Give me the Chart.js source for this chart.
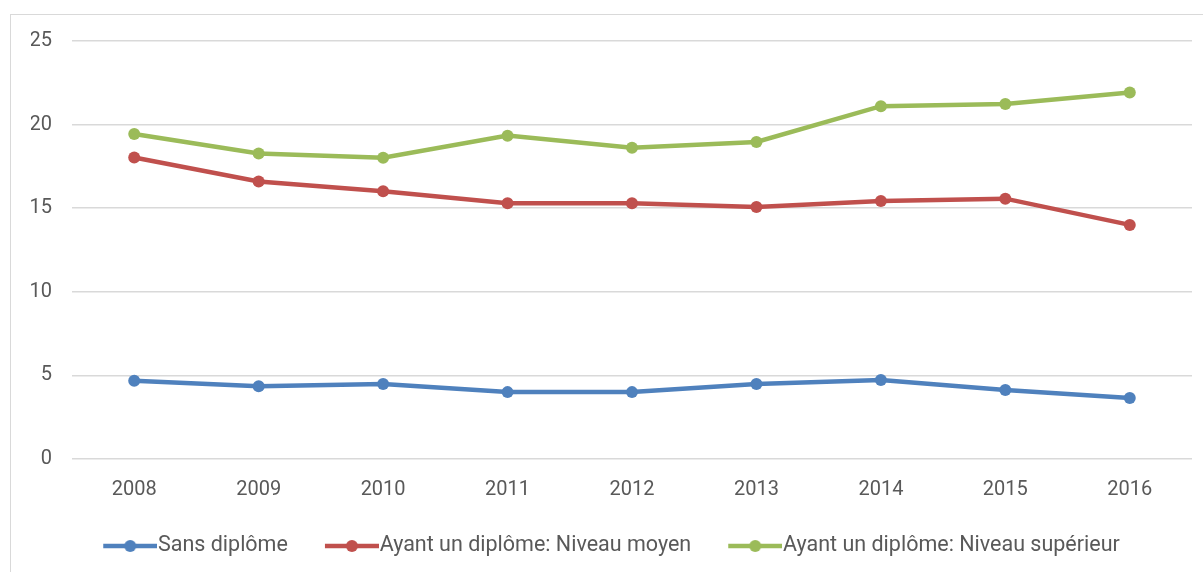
<!DOCTYPE html>
<html>
<head>
<meta charset="utf-8">
<script src="https://cdn.jsdelivr.net/npm/chart.js@4/dist/chart.umd.min.js"></script>
<style>
  html, body { margin: 0; padding: 0; background: #ffffff; }
  #wrap { position: relative; width: 1203px; height: 572px; }
</style>
</head>
<body>
<div id="wrap"><canvas id="c" width="1203" height="572"></canvas></div>
<script>
const years = ['2008', '2009', '2010', '2011', '2012', '2013', '2014', '2015', '2016'];
const sansDiplome = [4.68, 4.35, 4.48, 4.0, 4.0, 4.48, 4.72, 4.12, 3.65];
const niveauMoyen = [18.03, 16.6, 16.02, 15.3, 15.3, 15.07, 15.43, 15.57, 14.0];
const niveauSuperieur = [19.44, 18.27, 18.02, 19.34, 18.62, 18.96, 21.1, 21.23, 21.92];
const seriesNames = ['Sans diplôme', 'Ayant un diplôme: Niveau moyen', 'Ayant un diplôme: Niveau supérieur'];
const seriesColors = ['#4F81BD', '#C0504D', '#9BBB59'];
const yMin = 0, yMax = 25, yStep = 5;

const FONT = 'Roboto, "Open Sans", sans-serif';
const TEXT = '#595959';
const LEGEND_FONT = 21.5;
const BOXW = 44;

function legendIcon(color) {
  const w = BOXW + 20, h = 14;
  const cv = document.createElement('canvas');
  cv.width = w; cv.height = h;
  const g = cv.getContext('2d');
  g.strokeStyle = color; g.lineWidth = 4.5; g.lineCap = 'butt';
  g.beginPath(); g.moveTo(10, 7); g.lineTo(w, 7); g.stroke();
  g.fillStyle = color;
  g.beginPath(); g.arc(10 + (w - 10) / 2, 7, 6, 0, Math.PI * 2); g.fill();
  return cv;
}
const icons = seriesColors.map(legendIcon);

const framePlugin = {
  id: 'frame',
  beforeDraw(chart) {
    const ctx = chart.ctx;
    ctx.save();
    ctx.fillStyle = '#ffffff';
    ctx.fillRect(0, 0, chart.width, chart.height);
    ctx.strokeStyle = '#d9d9d9';
    ctx.lineWidth = 1;
    ctx.strokeRect(10.5, 14.5, 1400, 800);
    ctx.restore();
  }
};

const mk = (i, data) => ({
  label: seriesNames[i],
  data: data,
  borderColor: seriesColors[i],
  backgroundColor: seriesColors[i],
  borderWidth: 4.5,
  pointRadius: 6,
  pointHoverRadius: 6,
  pointBackgroundColor: seriesColors[i],
  pointBorderWidth: 0,
  tension: 0,
  fill: false
});

new Chart(document.getElementById('c'), {
  type: 'line',
  data: {
    labels: years,
    datasets: [mk(0, sansDiplome), mk(1, niveauMoyen), mk(2, niveauSuperieur)]
  },
  options: {
    responsive: false,
    animation: false,
    devicePixelRatio: 1,
    layout: { padding: { left: 31, right: 11, top: 41, bottom: 5.25 } },
    plugins: {
      tooltip: { enabled: false },
      legend: {
        position: 'bottom',
        labels: {
          usePointStyle: true,
          pointStyleWidth: BOXW,
          padding: 37,
          color: TEXT,
          font: { family: FONT, size: LEGEND_FONT },
          generateLabels(chart) {
            return chart.data.datasets.map((d, i) => ({
              text: d.label,
              fillStyle: seriesColors[i],
              strokeStyle: seriesColors[i],
              lineWidth: 0,
              pointStyle: icons[i],
              hidden: false,
              datasetIndex: i,
              fontColor: TEXT
            }));
          }
        }
      }
    },
    scales: {
      x: {
        offset: true,
        grid: { display: false, drawTicks: false },
        border: { display: false },
        ticks: { color: TEXT, font: { family: FONT, size: 20 }, padding: 19, maxRotation: 0 },
        afterFit(scale) { scale.height = 39.25; }
      },
      y: {
        min: yMin, max: yMax,
        grid: { color: '#d9d9d9', lineWidth: 1.5, drawTicks: false },
        border: { display: false },
        ticks: { stepSize: yStep, color: TEXT, font: { family: FONT, size: 20 }, padding: 20 },
        afterFit(scale) { scale.width = 41; }
      }
    }
  },
  plugins: [framePlugin]
});
</script>
</body>
</html>
